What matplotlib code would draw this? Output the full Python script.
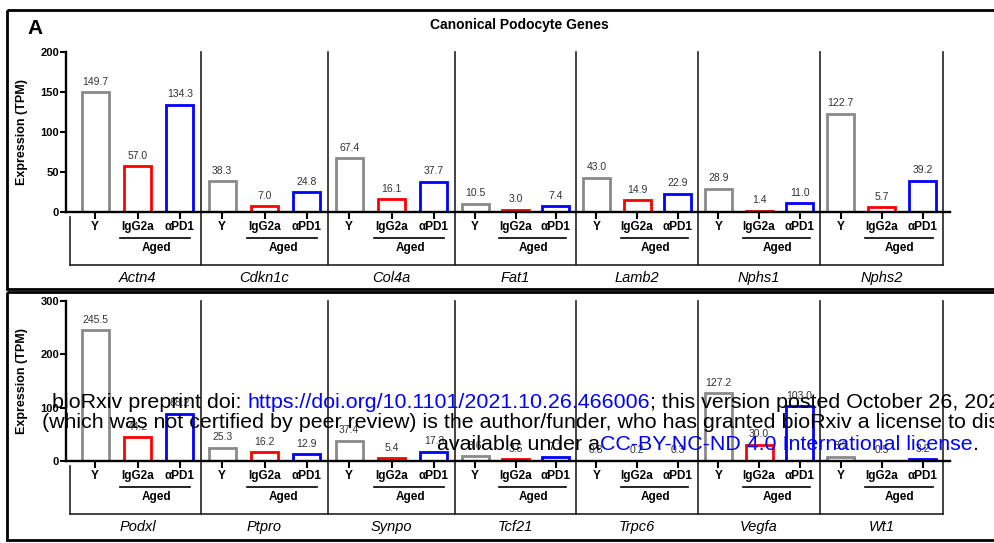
import matplotlib
matplotlib.use("Agg")
import matplotlib.pyplot as plt
from matplotlib.patches import Rectangle

plt.rcParams['font.family'] = ['Liberation Sans', 'DejaVu Sans']

# TPM per gene: young, aged IgG2a, aged aPD1
groups = ['Y', 'IgG2a', 'αPD1']
genes_top = ['Actn4', 'Cdkn1c', 'Col4a', 'Fat1', 'Lamb2', 'Nphs1', 'Nphs2']
tpm_top = [
    [149.7, 57.0, 134.3],
    [38.3, 7.0, 24.8],
    [67.4, 16.1, 37.7],
    [10.5, 3.0, 7.4],
    [43.0, 14.9, 22.9],
    [28.9, 1.4, 11.0],
    [122.7, 5.7, 39.2],
]
genes_bottom = ['Podxl', 'Ptpro', 'Synpo', 'Tcf21', 'Trpc6', 'Vegfa', 'Wt1']
tpm_bottom = [
    [245.5, 44.2, 88.2],
    [25.3, 16.2, 12.9],
    [37.4, 5.4, 17.3],
    [8.6, 3.5, 7.1],
    [0.8, 0.2, 0.3],
    [127.2, 30.0, 103.0],
    [8.2, 0.5, 3.2],
]
yticks_top = [0, 50, 100, 150, 200]
yticks_bottom = [0, 100, 200, 300]

# layout: relative width of each gene panel (x axis units)
panel_widths = [127, 127, 127, 121, 122, 122, 123]
bar_colors = ['#8a8a8a', '#ff0000', '#0000ff']
W, H = 994, 543


def panel_row(ax, genes, values, yticks):
    edges = [0]
    for w in panel_widths:
        edges.append(edges[-1] + w)
    xs, hs, cs = [], [], []
    for g, vals in enumerate(values):
        w = panel_widths[g]
        for k, v in enumerate(vals):
            xs.append(edges[g] + w * (2 * k + 1) / 6)
            hs.append(v)
            cs.append(bar_colors[k])
    ax.bar(xs, hs, width=27, facecolor='white', edgecolor=cs, linewidth=2)
    for x, h in zip(xs, hs):
        ax.annotate(f'{h:.1f}', xy=(x, h), xytext=(0, 4), textcoords='offset points',
                    ha='center', va='bottom', fontsize=7.5, color='#333333')

    ax.set_xlim(-8, edges[-1] + 7)
    ax.set_ylim(yticks[0], yticks[-1])
    ax.set_yticks(yticks)
    ax.set_xticks(xs)
    ax.set_xticklabels(groups * len(genes))
    ax.tick_params(axis='x', length=5, width=1.5, pad=1.5, labelsize=8.5)
    ax.tick_params(axis='y', length=4, width=1.5, pad=1, labelsize=8)
    for lbl in ax.get_xticklabels() + ax.get_yticklabels():
        lbl.set_fontweight('bold')
    for s in ['top', 'right']:
        ax.spines[s].set_visible(False)
    for s in ['left', 'bottom']:
        ax.spines[s].set_linewidth(1.7)
    ax.set_ylabel('Expression (TPM)', fontweight='bold', fontsize=9)
    ax.yaxis.set_label_coords(-38 / 884, 0.5)

    tr = ax.get_xaxis_transform()
    # group separators and bracket under the axis
    for e in edges[1:]:
        ax.plot([e, e], [1.0, -0.331], transform=tr, color='#222222', lw=1.2, clip_on=False)
    ax.plot([-4, -4], [-0.03, -0.331], transform=tr, color='#222222', lw=1.2, clip_on=False)
    ax.plot([-4, edges[-1]], [-0.331, -0.331], transform=tr, color='#222222', lw=1.2,
            clip_on=False)
    for g, name in enumerate(genes):
        w = panel_widths[g]
        ax.plot([edges[g] + 0.365 * w, edges[g] + 0.915 * w], [-0.1625, -0.1625],
                transform=tr, color='black', lw=1.2, clip_on=False)
        ax.text(edges[g] + 0.65 * w, -0.225, 'Aged', transform=tr, ha='center',
                va='center', fontsize=8.5, fontweight='bold')
        ax.text(edges[g] + 0.5 * w, -0.41, name, transform=tr, ha='center', va='center',
                fontsize=10.5, style='italic')


fig = plt.figure(figsize=(W / 100, H / 100), dpi=100)
ax_top = fig.add_axes([66 / W, 1 - 212 / H, 884 / W, 160 / H])
ax_bot = fig.add_axes([66 / W, 1 - 461 / H, 884 / W, 160 / H])
panel_row(ax_top, genes_top, tpm_top, yticks_top)
panel_row(ax_bot, genes_bottom, tpm_bottom, yticks_bottom)

# overlay in pixel units for frames, titles and the preprint stamp
ov = fig.add_axes([0, 0, 1, 1], zorder=10)
ov.set_xlim(0, W)
ov.set_ylim(H, 0)
ov.axis('off')
ov.add_patch(Rectangle((7, 10), 1000, 279, fill=False, lw=2, ec='black', clip_on=False))
ov.add_patch(Rectangle((7, 292), 1000, 248, fill=False, lw=2, ec='black', clip_on=False))
ov.text(35, 28, 'A', fontsize=15, fontweight='bold', ha='center', va='center')
ov.text(519, 25, 'Canonical Podocyte Genes', fontsize=10, fontweight='bold',
        ha='center', va='center')

stamp = [
    (52, 402, [('bioRxiv preprint doi: ', 'black'),
               ('https://doi.org/10.1101/2021.10.26.466006', '#0000ff'),
               ('; this version posted October 26, 2021. The copyright holder for this preprint', 'black')]),
    (42, 423, [('(which was not certified by peer review) is the author/funder, who has granted '
                'bioRxiv a license to display the preprint in perpetuity. It is made', 'black')]),
    (437, 444, [('available under a', 'black'),
                ('CC-BY-NC-ND 4.0 International license', '#0000ff'),
                ('.', 'black')]),
]
for x0, y0, parts in stamp:
    t = ov.text(x0, y0, parts[0][0], color=parts[0][1], fontsize=15.4,
                ha='left', va='center')
    for s, c in parts[1:]:
        t = ov.annotate(s, xy=(1, 0), xycoords=t, ha='left', va='bottom',
                        color=c, fontsize=15.4, annotation_clip=False)

fig.savefig('out.png', dpi=100)
